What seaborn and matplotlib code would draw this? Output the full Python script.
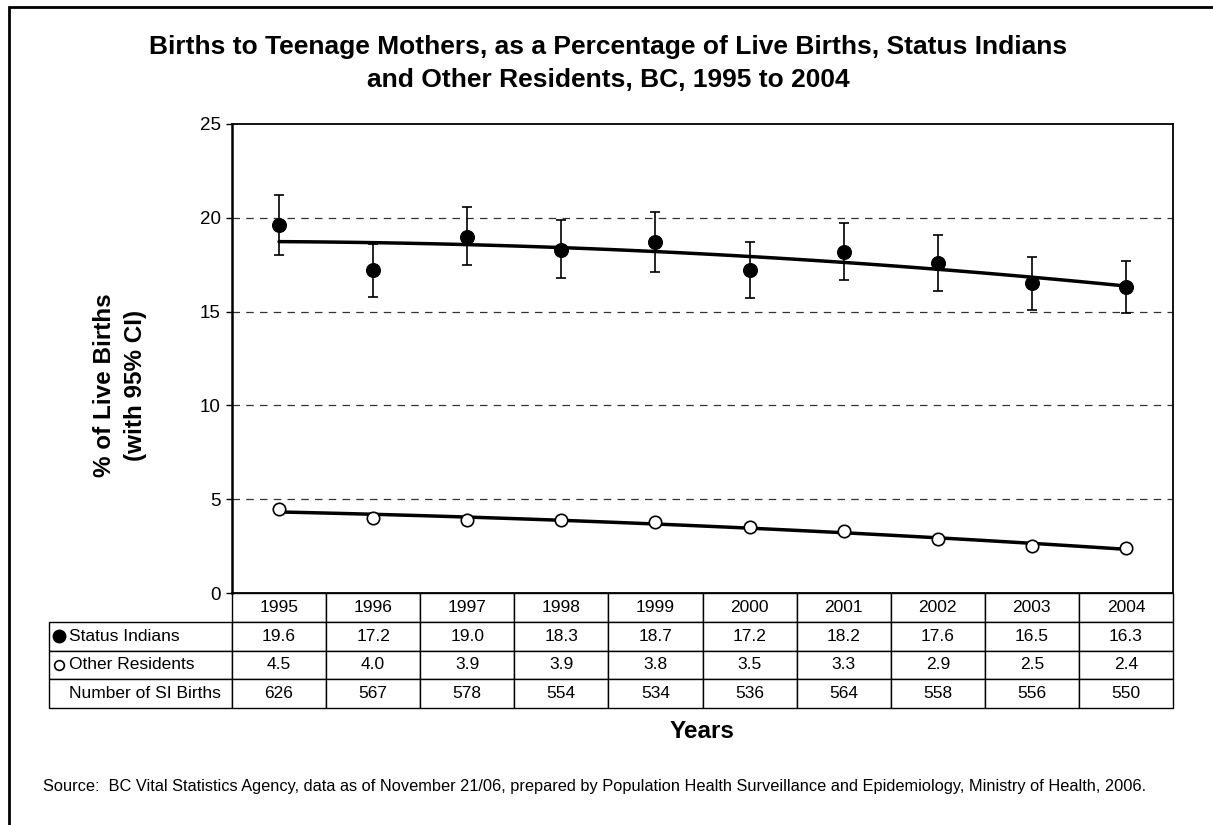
import numpy as np
import pandas as pd
import matplotlib
matplotlib.use("Agg")
import matplotlib.pyplot as plt
from matplotlib.patches import Rectangle
import seaborn as sns

# ---- data ----
years = [1995, 1996, 1997, 1998, 1999, 2000, 2001, 2002, 2003, 2004]
status_indians = [19.6, 17.2, 19.0, 18.3, 18.7, 17.2, 18.2, 17.6, 16.5, 16.3]
si_ci_low = [18.0, 15.8, 17.5, 16.8, 17.1, 15.7, 16.7, 16.1, 15.1, 14.9]
si_ci_high = [21.2, 18.6, 20.6, 19.9, 20.3, 18.7, 19.7, 19.1, 17.9, 17.7]
other_residents = [4.5, 4.0, 3.9, 3.9, 3.8, 3.5, 3.3, 2.9, 2.5, 2.4]
si_births = [626, 567, 578, 554, 534, 536, 564, 558, 556, 550]
row_labels = ["Status Indians", "Other Residents", "Number of SI Births"]
y_ticks = [0, 5, 10, 15, 20, 25]

df = pd.DataFrame({"year": years, "si": status_indians,
                   "lo": si_ci_low, "hi": si_ci_high,
                   "other": other_residents})

sns.set_theme(style="white")
plt.rcParams["font.family"] = ["Liberation Sans", "DejaVu Sans"]
plt.rcParams["text.color"] = "black"
plt.rcParams["ytick.color"] = "black"

W, H = 1213, 825
fig = plt.figure(figsize=(W / 100, H / 100), dpi=100)
AX_L, AX_R, AX_T, AX_B = 232, 1173, 124, 593
ax = fig.add_axes([AX_L / W, 1 - AX_B / H, (AX_R - AX_L) / W, (AX_B - AX_T) / H])
ax_w, ax_h = AX_R - AX_L, AX_B - AX_T

# dashed horizontal gridlines
for v in y_ticks[1:-1]:
    ax.axhline(v, color="#333333", lw=0.9, linestyle=(0, (6, 5)), zorder=1)

# 95% confidence intervals for Status Indians
ax.errorbar(df["year"], df["si"],
            yerr=[df["si"] - df["lo"], df["hi"] - df["si"]],
            fmt="none", ecolor="black", elinewidth=1.2,
            capsize=3.3, capthick=1.2, zorder=2)

# polynomial trend lines
sns.regplot(data=df, x="year", y="si", order=2, ci=None, scatter=False,
            color="black", line_kws={"lw": 2.5, "zorder": 3}, ax=ax)
sns.regplot(data=df, x="year", y="other", order=2, ci=None, scatter=False,
            color="black", line_kws={"lw": 2.5, "zorder": 3}, ax=ax)

# markers
sns.scatterplot(data=df, x="year", y="si", color="black", edgecolor="black",
                s=100, marker="o", zorder=4, ax=ax, legend=False)
sns.scatterplot(data=df, x="year", y="other", color="white", edgecolor="black",
                linewidth=1.2, s=80, marker="o", zorder=4, ax=ax, legend=False)

ax.set_xlim(1994.5, 2004.5)
ax.set_ylim(0, 25)
ax.set_yticks(y_ticks)
ax.set_yticklabels([str(t) for t in y_ticks], fontsize=13.5, color="black")
ax.set_xticks([])
ax.set_xlabel("")
ax.set_ylabel("")
ax.tick_params(axis="y", direction="out", length=4, width=1, color="black",
               pad=4, left=True)
for sp in ax.spines.values():
    sp.set_visible(True)
    sp.set_color("black")
    sp.set_linewidth(1.3)
ax.spines["left"].set_linewidth(1.8)

# data table under the plot: label column + one column per year
T_L, T_B = 49, 708
label_w = AX_L - T_L
header = [""] + [str(y) for y in years]
cell_text = [header,
             [row_labels[0]] + [f"{v:.1f}" for v in status_indians],
             [row_labels[1]] + [f"{v:.1f}" for v in other_residents],
             [row_labels[2]] + [str(v) for v in si_births]]
total_w = AX_R - T_L
col_w = [label_w / total_w] + [ax_w / len(years) / total_w] * len(years)
tbl = ax.table(cellText=cell_text, colWidths=col_w, cellLoc="center",
               bbox=[(T_L - AX_L) / ax_w, (AX_B - T_B) / ax_h,
                     total_w / ax_w, (T_B - AX_B) / ax_h])
tbl.auto_set_font_size(False)
tbl.set_fontsize(12.5)
for (r, c), cell in tbl.get_celld().items():
    cell.set_edgecolor("black")
    cell.set_linewidth(1.0)
    cell.get_text().set_color("black")
    if c == 0:
        if r == 0:
            cell.visible_edges = ""
        cell._loc = "left"
        cell.get_text().set_horizontalalignment("left")
        cell.PAD = 20 / label_w

# series keys in the label column
row_h = (T_B - AX_B) / 4
for i, (face, size) in enumerate([("black", 8.8), ("white", 7.0)]):
    yc = AX_B + row_h * (1.5 + i)
    ax.plot([(59 - AX_L) / ax_w], [(AX_B - yc) / ax_h], marker="o",
            markersize=size, markerfacecolor=face, markeredgecolor="black",
            markeredgewidth=1.2, linestyle="none", transform=ax.transAxes,
            clip_on=False, zorder=5)

# titles and labels
fig.text(608 / W, 1 - 47 / H,
         "Births to Teenage Mothers, as a Percentage of Live Births, Status Indians",
         ha="center", va="center", fontsize=19, fontweight="bold")
fig.text(608 / W, 1 - 80 / H,
         "and Other Residents, BC, 1995 to 2004",
         ha="center", va="center", fontsize=19, fontweight="bold")
fig.text(120 / W, 1 - 385 / H, "% of Live Births\n(with 95% CI)",
         rotation=90, ha="center", va="center", fontsize=17.5,
         fontweight="bold", multialignment="center", linespacing=1.45)
fig.text((AX_L + AX_R) / 2 / W, 1 - 731 / H, "Years", ha="center", va="center",
         fontsize=17.5, fontweight="bold")
fig.text(43 / W, 1 - 787 / H,
         "Source:  BC Vital Statistics Agency, data as of November 21/06, prepared by "
         "Population Health Surveillance and Epidemiology, Ministry of Health, 2006.",
         ha="left", va="center", fontsize=11.8)

# outer frame
fig.patches.append(Rectangle((9 / W, -0.1), 1.2, 1 - 7 / H + 0.1,
                             transform=fig.transFigure, fill=False,
                             edgecolor="black", lw=2))

fig.savefig("out.png", dpi=100)
